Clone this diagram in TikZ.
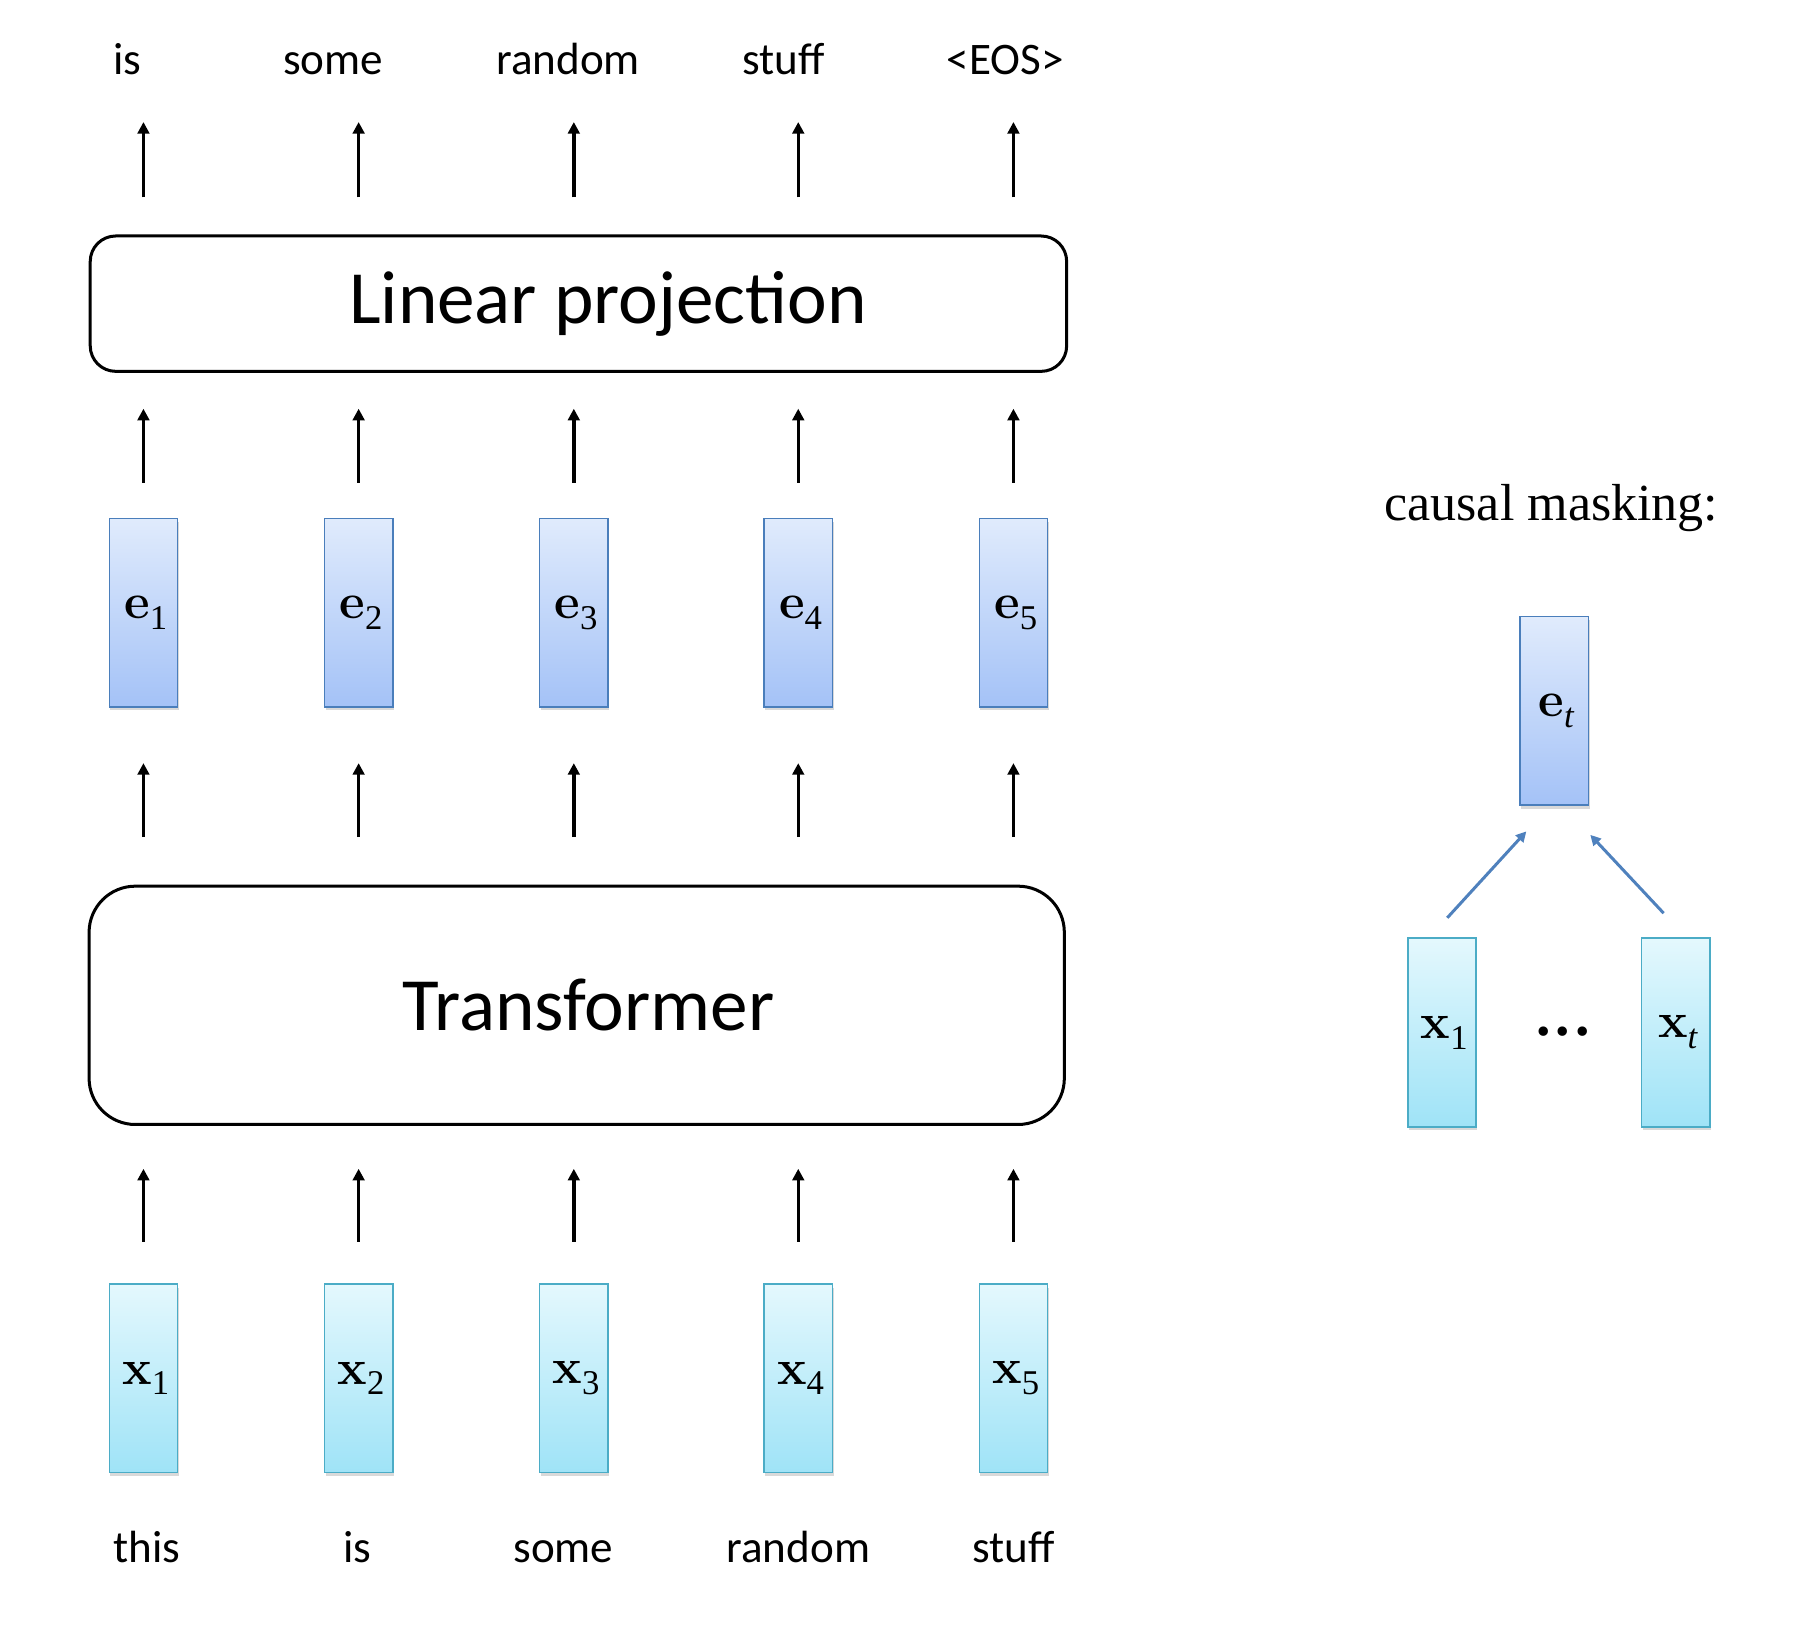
\documentclass[tikz,border=0pt]{standalone}
\usepackage{fontspec}
\newfontfamily\labelfont{Carlito}
\newfontfamily\notefont{Liberation Serif}
\usetikzlibrary{arrows.meta,shadows,calc}
\definecolor{embtop}{HTML}{E0EBFC}
\definecolor{embbot}{HTML}{A4C2F7}
\definecolor{embline}{HTML}{4A7EBB}
\definecolor{intop}{HTML}{E4F8FD}
\definecolor{inbot}{HTML}{9FE3F7}
\definecolor{inline}{HTML}{4BACC6}
\definecolor{maskblue}{HTML}{4F81BD}
\newcommand\vsym[2]{\textbf{#1}\raisebox{-.22em}{\notefont\fontsize{30}{30}\selectfont#2}}
\tikzset{
  vecbox/.style={line width=1.3pt,minimum width=59pt,minimum height=163pt,inner sep=0pt,
    drop shadow={shadow xshift=1pt,shadow yshift=-3pt,opacity=.3},font=\fontsize{43}{50}\selectfont},
  embbox/.style={vecbox,draw=embline,top color=embtop,bottom color=embbot},
  inbox/.style={vecbox,draw=inline,top color=intop,bottom color=inbot},
  layer/.style={draw,line width=2.6pt,rounded corners=22pt,font=\labelfont\fontsize{65}{78}\selectfont},
  word/.style={font=\labelfont\fontsize{39}{47}\selectfont,anchor=base,inner sep=0pt},
  arr/.style={-{Triangle[width=10pt,length=10pt]},line width=2.9pt},
  maskarr/.style={-{Triangle[width=9pt,length=9pt]},line width=2.6pt,color=maskblue}
}
\begin{document}
\begin{tikzpicture}[x=1pt,y=1pt]
  \useasboundingbox (0,0) rectangle (1568,1411);
  \node[layer,minimum width=843pt,minimum height=206pt,rounded corners=40pt] (trans) at (498.5,542) {\hspace*{20pt}Transformer};
  \node[layer,minimum width=844pt,minimum height=117pt] (lin) at (500,1148.5) {\hspace*{51pt}Linear projection};
  \foreach \i/\cx/\ox/\ow/\ix/\iw in {1/124/110/is/127/this,2/310/288/some/309/is,3/496/491/random/487/some,4/690/677/stuff/690/random,5/876/869/{<EOS>}/876/stuff}{
    \node[embbox] (e\i) at (\cx,881.5) {\hspace*{4pt}\vsym{e}{\i}};
    \node[inbox] (x\i) at (\cx,219.5) {\hspace*{4pt}\vsym{x}{\i}};
    \node[word] (out\i) at (\ox,1347) {\ow};
    \node[word] (in\i) at (\ix,60) {\iw};
    \draw[arr,shorten <=36pt,shorten >=37pt] (x\i.north) -- (x\i |- trans.south);
    \draw[arr,shorten <=41pt,shorten >=48pt] (e\i |- trans.north) -- (e\i.south);
    \draw[arr,shorten <=30pt,shorten >=31pt] (e\i.north) -- (e\i |- lin.south);
    \draw[arr,shorten <=32pt,shorten >=41pt] (e\i |- lin.north) -- (e\i |- out\i.south);
  }
  \node[font=\notefont\fontsize{45}{54}\selectfont,anchor=base,inner sep=0pt] (note) at (1341,961) {causal masking:};
  \node[embbox] (et) at (1343.5,796.5) {\hspace*{4pt}\vsym{e}{\textit{t}}};
  \node[inbox] (xa) at (1246.5,518.5) {\hspace*{4pt}\vsym{x}{1}};
  \node[inbox] (xt) at (1448.5,518.5) {\hspace*{4pt}\vsym{x}{\textit{t}}};
  \node[font=\notefont\fontsize{50}{55}\selectfont\bfseries,anchor=base,inner sep=0pt] (dots) at (1351,506) {\raisebox{.2em}{.\hspace{.09em}.\hspace{.09em}.}};
  \draw[maskarr] ($(xa.north)+(4.5,17)$) -- ($(et.south west)+(6,-22)$);
  \draw[maskarr] ($(xt.north)+(-10.5,21)$) -- ($(et.south east)+(1,-25)$);
\end{tikzpicture}
\end{document}
